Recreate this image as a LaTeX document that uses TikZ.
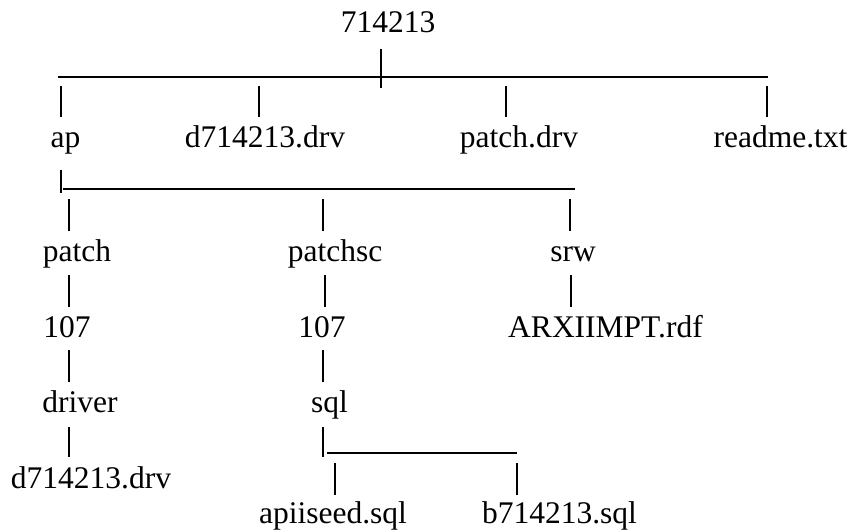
\documentclass[tikz,border=0pt]{standalone}
\usepackage{fontspec}
\setmainfont{Liberation Serif}
\begin{document}
\begin{tikzpicture}[x=1pt,y=-1pt,
  lbl/.style={anchor=base,inner sep=0pt,font=\fontsize{31.5}{36}\selectfont},
  bar/.style={line width=2pt,black}]
\useasboundingbox (0,0) rectangle (856,532);
% texts
\node[lbl] (root) at (388,33) {714213};
\node[lbl] (ap) at (65.5,147) {ap};
\node[lbl] (drvA) at (265,147) {d714213.drv};
\node[lbl] (pdrv) at (519,147) {patch.drv};
\node[lbl] (readme) at (780.5,147) {readme.txt};
\node[lbl] (patch) at (77,261) {patch};
\node[lbl] (patchsc) at (335,261) {patchsc};
\node[lbl] (srw) at (573,261) {srw};
\node[lbl] (vA) at (67,337) {107};
\node[lbl] (vB) at (322,337) {107};
\node[lbl] (rdf) at (605.5,337) {ARXIIMPT.rdf};
\node[lbl] (driver) at (80,412) {driver};
\node[lbl] (sql) at (329.5,412) {sql};
\node[lbl] (drvB) at (91,488) {d714213.drv};
\node[lbl] (seed) at (333,523) {apiiseed.sql};
\node[lbl] (bsql) at (559.5,523) {b714213.sql};
% level 1
\draw[bar] (381,49) -- (381,88);
\draw[bar] (58,77) -- (768,77);
\foreach \x in {61,259,506,767} \draw[bar] (\x,86) -- (\x,117);
% level 2
\draw[bar] (61,170) -- (61,193);
\draw[bar] (63,189) -- (575,189);
\foreach \x in {69,323,570} \draw[bar] (\x,199) -- (\x,231);
\foreach \x in {69,325,571} \draw[bar] (\x,275) -- (\x,307);
\foreach \x in {69,323} \draw[bar] (\x,350) -- (\x,382);
\foreach \x in {69,323} \draw[bar] (\x,427) -- (\x,457);
\draw[bar] (327,453) -- (517,453);
\foreach \x in {335,517} \draw[bar] (\x,463) -- (\x,495);
\end{tikzpicture}
\end{document}
